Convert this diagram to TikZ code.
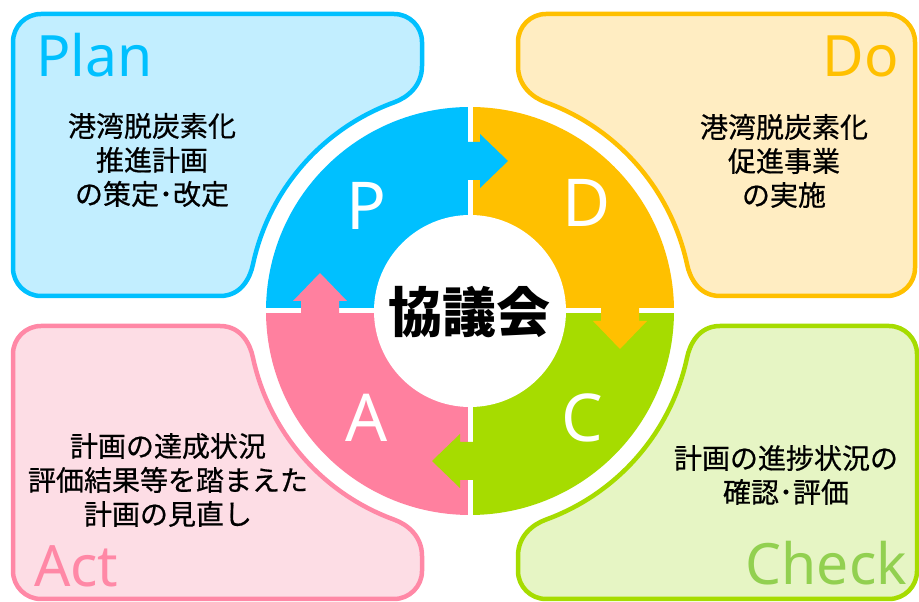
\documentclass[tikz,border=0pt]{standalone}
\usepackage{fontspec}
\setmainfont{Noto Sans}
\newfontfamily\jpfont{Noto Sans CJK JP}
\newfontfamily\jpbody{Noto Sans CJK JP}[FakeBold=0.6]
\definecolor{pblue}{HTML}{00C0FF}
\definecolor{pbluel}{HTML}{C2EEFF}
\definecolor{dorange}{HTML}{FFC000}
\definecolor{dorangel}{HTML}{FFEDC2}
\definecolor{cgreen}{HTML}{A6DC00}
\definecolor{cgreenl}{HTML}{E6F5C4}
\definecolor{ctext}{HTML}{92D050}
\definecolor{apink}{HTML}{FF809F}
\definecolor{apinkl}{HTML}{FDDDE5}
\definecolor{aborder}{HTML}{FF88A6}
\newcommand{\panelpath}[2]{(48,#2-28) -- (48,245) .. controls (48,225) and (62.7,213.4) .. (70:222) arc[start angle=70,end angle=12,radius=222] .. controls (219.6,34.5) and (228,15) .. (250,15) -- (#1-28,15) arc[start angle=-90,end angle=0,radius=28] -- (#1,#2-28) arc[start angle=0,end angle=90,radius=28] -- (76,#2) arc[start angle=90,end angle=180,radius=28] -- cycle}
\newcommand{\arrowpath}{(-12,131) -- (10,131) -- (10,123) -- (38,150) -- (10,177) -- (10,169) -- (-12,169) -- cycle}
\tikzset{
  panel/.style={line width=4.5pt, line join=round},
  body/.style={font=\jpbody\fontsize{28}{34}\selectfont, align=center, text=black},
  tag/.style={font=\fontsize{57}{60}\selectfont},
  letter/.style={font=\fontsize{66}{70}\selectfont, text=white, anchor=base},
}
\begin{document}
\begin{tikzpicture}[x=1pt,y=1pt]
\useasboundingbox (0,0) rectangle (919,602);
\fill[white] (0,0) rectangle (919,602);
% panels
\begin{scope}[shift={(470,291)}, xscale=-1]
  \draw[panel, draw=pblue, fill=pbluel] \panelpath{457}{297};
\end{scope}
\begin{scope}[shift={(470,291)}]
  \draw[panel, draw=dorange, fill=dorangel] \panelpath{445}{297};
\end{scope}
\begin{scope}[shift={(470,291)}, yscale=-1]
  \draw[panel, draw=cgreen, fill=cgreenl] \panelpath{447}{288};
\end{scope}
\begin{scope}[shift={(470,291)}, xscale=-1, yscale=-1]
  \draw[panel, draw=aborder, fill=apinkl] \panelpath{457}{288};
\end{scope}
% ring
\coordinate (c) at (470,291);
\fill[pblue] (c) -- +(180:204) arc[start angle=180,end angle=90,radius=204] -- cycle;
\fill[dorange] (c) -- +(90:204) arc[start angle=90,end angle=0,radius=204] -- cycle;
\fill[cgreen] (c) -- +(0:204) arc[start angle=0,end angle=-90,radius=204] -- cycle;
\fill[apink] (c) -- +(-90:204) arc[start angle=-90,end angle=-180,radius=204] -- cycle;
\draw[white, line width=5pt] (470,84) -- (470,498);
\draw[white, line width=5pt] (263,291) -- (677,291);
% arrows
\begin{scope}[shift={(470,291)}]
  \fill[pblue] \arrowpath;
  \begin{scope}[rotate=-90] \fill[dorange] \arrowpath; \end{scope}
  \begin{scope}[rotate=-180] \fill[cgreen] \arrowpath; \end{scope}
  \begin{scope}[rotate=-270] \fill[apink] \arrowpath; \end{scope}
\end{scope}
\fill[white] (c) circle[radius=96];
% centre text
\node[font=\jpfont\bfseries\fontsize{54}{56}\selectfont, text=black] (kyo) at (469,290) {協議会};
% ring letters
\node[letter] (lp) at (366,372) {P};
\node[letter] (ld) at (587,375) {D};
\node[letter] (lc) at (582,160) {C};
\node[letter] (la) at (367,160) {A};
% tags
\node[tag, text=pblue, anchor=base west, inner sep=0pt] (tplan) at (36,525) {Plan};
\node[tag, text=dorange, anchor=base east, inner sep=0pt] (tdo) at (899,525) {Do};
\node[tag, text=aborder, anchor=base west, inner sep=0pt] (tact) at (34,15) {Act};
\node[tag, text=ctext, anchor=base east, inner sep=0pt] (tcheck) at (907,17) {Check};
% body texts
\node[body] (bplan) at (152,442) {港湾脱炭素化\\推進計画\\の策定･改定};
\node[body] (bdo) at (784,441) {港湾脱炭素化\\促進事業\\の実施};
\node[body] (bact) at (168,122) {計画の達成状況\\評価結果等を踏まえた\\計画の見直し};
\node[body] (bcheck) at (786,127) {計画の進捗状況の\\確認･評価};
\end{tikzpicture}
\end{document}
